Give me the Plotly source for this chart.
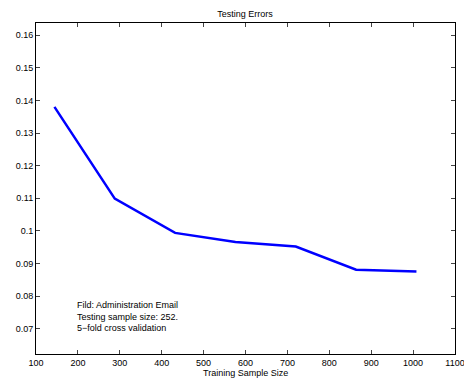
import plotly.graph_objects as go

train_size = [144, 288, 432, 576, 720, 864, 1008]
test_error = [0.1380, 0.1099, 0.0994, 0.0966, 0.0952, 0.0881, 0.0876]

x_ticks = [100, 200, 300, 400, 500, 600, 700, 800, 900, 1000, 1100]
y_ticks = [0.07, 0.08, 0.09, 0.1, 0.11, 0.12, 0.13, 0.14, 0.15, 0.16]
y_tick_labels = ["0.07", "0.08", "0.09", "0.1", "0.11", "0.12", "0.13", "0.14", "0.15", "0.16"]

fig = go.Figure()
fig.add_trace(go.Scatter(x=train_size, y=test_error, mode="lines",
                         line=dict(color="#0000ff", width=2.5), showlegend=False))

font = dict(family="Liberation Sans, Arial, sans-serif", size=9, color="black")

fig.update_layout(
    width=464, height=379,
    margin=dict(l=36, r=9, t=23, b=25),
    paper_bgcolor="white", plot_bgcolor="white",
    font=font,
    title=dict(text="Testing Errors", x=0.528, xanchor="center", y=0.963, yanchor="middle",
               font=dict(size=9)),
    xaxis=dict(range=[100, 1100], tickvals=x_ticks, ticks="inside", ticklen=4,
               showline=True, linecolor="black", linewidth=1, mirror="ticks",
               showgrid=False, zeroline=False, automargin=False,
               ticklabeloverflow="allow"),
    yaxis=dict(range=[0.0623, 0.1637], tickvals=y_ticks, ticktext=y_tick_labels,
               ticks="inside", ticklen=4, automargin=False,
               showline=True, linecolor="black", linewidth=1, mirror="ticks",
               showgrid=False, zeroline=False),
    annotations=[
        dict(x=193, y=0.0795, xref="x", yref="y", xanchor="left", yanchor="top",
             align="left", showarrow=False,
             text="Fild: Administration Email<br>Testing sample size: 252.<br>5\u2212fold cross validation",
             font=dict(size=9)),
        dict(x=0.5, y=-0.0574, xref="paper", yref="paper", xanchor="center", yanchor="middle",
             showarrow=False, text="Training Sample Size", font=dict(size=9)),
    ],
)

fig.write_html("out.html", config={"displayModeBar": False},
               post_script="document.body.style.margin='0';")
